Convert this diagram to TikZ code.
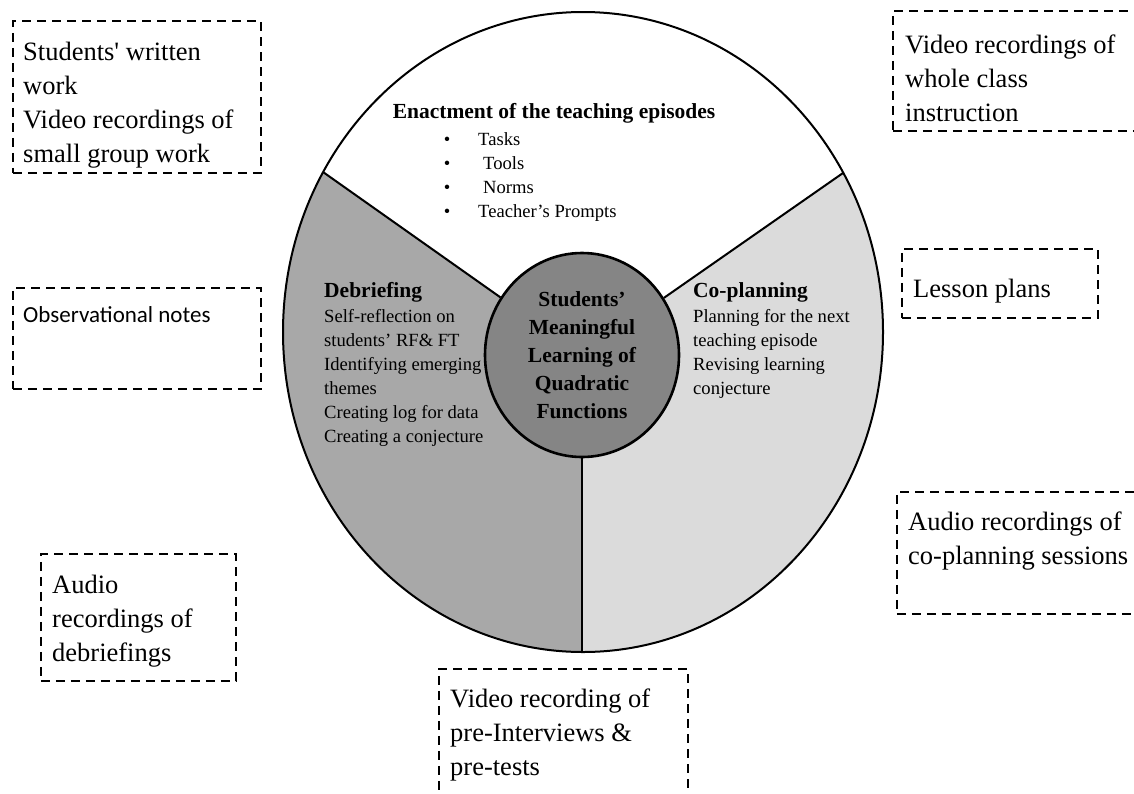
\documentclass[tikz,border=0pt]{standalone}
\usepackage{fontspec}
\setmainfont{Liberation Serif}
\newfontfamily\calibri{Carlito}
\usepackage{tikz}
\usetikzlibrary{calc,positioning,shapes.geometric}
\definecolor{debrief}{gray}{0.66}
\definecolor{coplan}{gray}{0.86}
\definecolor{coregray}{gray}{0.52}

\begin{document}
\begin{tikzpicture}[x=1pt, y=-1pt,
  srcbox/.style={draw, dash pattern=on 9pt off 6pt, line width=1.6pt, inner sep=0, anchor=north west},
  srctxt/.style={font=\fontsize{26.5}{34}\selectfont, align=left, inner sep=0, anchor=north west},
  head/.style={font=\bfseries\fontsize{21.5}{28}\selectfont, inner sep=0},
  body/.style={font=\fontsize{18.6}{24}\selectfont, align=left, inner sep=0, anchor=north west}]
\tikzstyle{rim}=[line width=2pt, black]
\tikzstyle{core}=[ellipse, draw, line width=2.6pt, fill=coregray, minimum width=194, minimum height=204, inner sep=0, align=center, font=\bfseries\fontsize{21.5}{28}\selectfont]
\clip (0,0) rectangle (1134,793);
\fill[white] (0,0) rectangle (1134,793);
% wheel
\coordinate (ctr) at (582,355);
\coordinate (jl) at (323,172);
\coordinate (jr) at (843,173);
\coordinate (jb) at (582,653);
\fill[coplan] (583,332) ellipse [x radius=300, y radius=320];
\begin{scope}
\clip (583,332) ellipse [x radius=300, y radius=320];
\fill[debrief] (ctr) -- (jl) -- (193,80) -- (193,800) -- (582,800) -- cycle;
\fill[white] (ctr) -- (jl) -- (193,80) -- (193,-10) -- (973,-10) -- (973,82) -- (jr) -- cycle;
\end{scope}
\draw[rim] (583,332) ellipse [x radius=300, y radius=320];
\node[core] (core) at (ctr) {Students’\\Meaningful\\Learning of\\Quadratic\\Functions};
\foreach \j in {jl,jr,jb}{
\draw[rim] (core) -- (\j);
}
% sector texts
\node[head, anchor=base] (enact) at (554,118) {Enactment of the teaching episodes};
\foreach \t/\dx [count=\i from 0] in {Tasks/0, Tools/5, Norms/5, Teacher’s Prompts/0}{
\node[body, anchor=base] (dot\i) at ({447},{145+24*\i}) {\textbullet};
\node[body, anchor=base west] (item\i) at ({478+\dx},{145+24*\i}) {\t};
}
\node[head, anchor=base west] (debh) at (324,297) {Debriefing};
\node[body] (debt) at (324,309) {Self-reflection on\\students’ RF\& FT\\Identifying emerging\\themes\\Creating log for data\\Creating a conjecture};
\node[head, anchor=base west] (coph) at (693,297) {Co-planning};
\node[body] (copt) at (693,309) {Planning for the next\\teaching episode\\Revising learning\\conjecture};
% data sources
\node[srcbox, minimum width=248, minimum height=152] (written) at (12,20) {};
\node[srctxt] (writtent) at (23,42) {Students\textquotesingle{} written\\work\\Video recordings of\\small group work};
\node[srcbox, minimum width=248, minimum height=101] (obsv) at (12,287) {};
\node[inner sep=0, anchor=base west, font=\calibri\fontsize{23}{28}\selectfont] (obsvt) at (23,322) {Observational notes};
\node[srcbox, minimum width=195, minimum height=127] (audiodeb) at (40,553) {};
\node[srctxt] (audiodebt) at (52,575) {Audio\\recordings of\\debriefings};
\node[srcbox, minimum width=260, minimum height=120] (whole) at (892,10) {};
\node[srctxt] (wholet) at (905,35) {Video recordings of\\whole class\\instruction};
\node[srcbox, minimum width=196, minimum height=69] (lesson) at (901,248) {};
\node[srctxt, anchor=base west] (lessont) at (913,297) {Lesson plans};
\node[srcbox, minimum width=260, minimum height=122] (audiocop) at (896,491) {};
\node[srctxt] (audiocopt) at (908,512) {Audio recordings of\\co-planning sessions};
\node[srcbox, minimum width=249, minimum height=140] (interview) at (438,668) {};
\node[srctxt] (interviewt) at (450,689) {Video recording of\\pre-Interviews \&\\pre-tests};
\end{tikzpicture}
\end{document}
